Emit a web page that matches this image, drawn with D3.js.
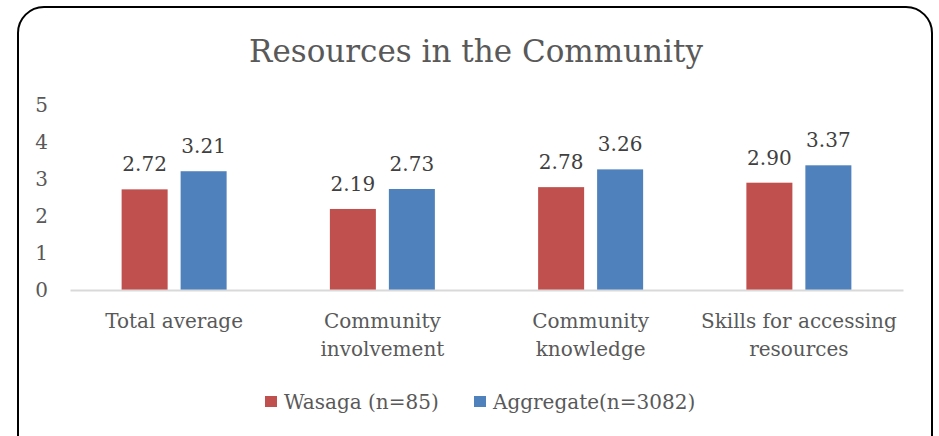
<!DOCTYPE html>
<html><head><meta charset="utf-8">
<script src="https://cdn.jsdelivr.net/npm/d3@7"></script>
<style>body{margin:0;background:#fff}svg{display:block}</style>
</head><body>
<svg id="chart" width="939" height="436"></svg>
<script>
const title = "Resources in the Community";
const categories = [["Total average"], ["Community", "involvement"], ["Community", "knowledge"], ["Skills for accessing", "resources"]];
const seriesNames = ["Wasaga (n=85)", "Aggregate(n=3082)"];
const wasaga = [2.72, 2.19, 2.78, 2.90];
const aggregate = [3.21, 2.73, 3.26, 3.37];
const yTicks = [0, 1, 2, 3, 4, 5];
const colors = ["#C0504D", "#4F81BD"];

const FONT = "'DejaVu Serif', serif";
const svg = d3.select("#chart");
svg.append("rect").attr("x", 18).attr("y", 7).attr("width", 914).attr("height", 460)
  .attr("rx", 26).attr("fill", "#fff").attr("stroke", "#000").attr("stroke-width", 2);

svg.append("text").attr("x", 476).attr("y", 62).attr("text-anchor", "middle")
  .attr("font-family", FONT).attr("font-size", 31).attr("fill", "#595959").text(title);

const x0 = d3.scaleBand().domain(d3.range(categories.length)).range([70, 903]).paddingInner(0).paddingOuter(0);
const y = d3.scaleLinear().domain([0, 5]).range([290, 105]);
const bw = x0.bandwidth();
const x1 = d3.scaleBand().domain([0, 1]).range([(bw - 105) / 2, (bw + 105) / 2]).paddingInner(0.22).paddingOuter(0);

// y axis labels
const yAxis = d3.axisLeft(y).tickValues(yTicks).tickSize(0).tickPadding(0).tickFormat(d3.format("d"));
const ya = svg.append("g").attr("transform", "translate(48,0)").call(yAxis);
ya.select(".domain").remove();
ya.selectAll("text").attr("font-family", FONT).attr("font-size", 20).attr("fill", "#595959");

const data = [wasaga, aggregate];
const groups = svg.append("g");
data.forEach((vals, s) => {
  groups.selectAll(".bar" + s).data(vals).enter().append("rect")
    .attr("x", (d, i) => x0(i) + x1(s))
    .attr("y", d => y(d))
    .attr("width", x1.bandwidth())
    .attr("height", d => y(0) - y(d))
    .attr("fill", colors[s]);
  groups.selectAll(".lab" + s).data(vals).enter().append("text")
    .attr("x", (d, i) => x0(i) + x1(s) + x1.bandwidth() / 2)
    .attr("y", d => y(d) - 18)
    .attr("text-anchor", "middle").attr("font-family", FONT).attr("font-size", 20)
    .attr("fill", "#404040").text(d => d.toFixed(2));
});

// x axis
const xAxis = d3.axisBottom(x0).tickSize(0).tickFormat("");
const xa = svg.append("g").attr("transform", "translate(0,290)").call(xAxis);
xa.select(".domain").attr("stroke", "#D9D9D9").attr("stroke-width", 2);
categories.forEach((lines, i) => {
  const t = svg.append("text").attr("text-anchor", "middle").attr("font-family", FONT)
    .attr("font-size", 20).attr("fill", "#595959");
  lines.forEach((ln, k) => t.append("tspan").attr("x", x0(i) + x0.bandwidth() / 2).attr("y", 328 + k * 28).text(ln));
});

// legend
const legX = [265, 474];
seriesNames.forEach((n, s) => {
  svg.append("rect").attr("x", legX[s]).attr("y", 396).attr("width", 12).attr("height", 11).attr("fill", colors[s]);
  svg.append("text").attr("x", legX[s] + 19).attr("y", 409).attr("font-family", FONT).attr("font-size", 20)
    .attr("fill", "#595959").text(n);
});
</script>
</body></html>
